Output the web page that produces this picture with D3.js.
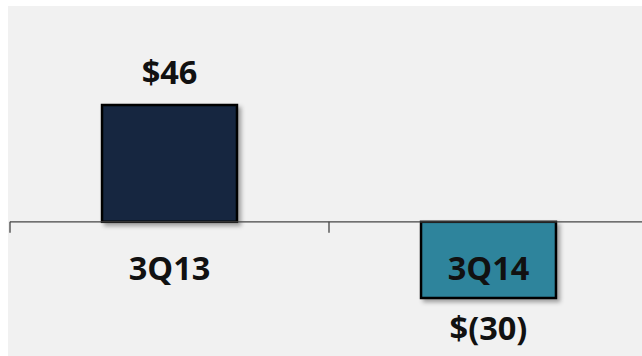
<!DOCTYPE html>
<html>
<head>
<meta charset="utf-8">
<script src="https://cdn.jsdelivr.net/npm/d3@7"></script>
<style>
  html, body { margin: 0; padding: 0; background: #ffffff; }
  svg { display: block; }
</style>
</head>
<body>
<svg id="chart" width="642" height="356"></svg>
<script>
const categories = ["3Q13", "3Q14"];
const values = [46, -30];
const valueLabels = ["$46", "$(30)"];
const barColors = ["#12253f", "#2e849c"];

const W = 642, H = 356;
const svg = d3.select("#chart");

const defs = svg.append("defs");
const f = defs.append("filter").attr("id", "shadow")
  .attr("x", "-20%").attr("y", "-20%").attr("width", "140%").attr("height", "140%");
f.append("feDropShadow").attr("dx", 3).attr("dy", 3).attr("stdDeviation", 2.2)
  .attr("flood-color", "#000").attr("flood-opacity", 0.35);

// panel background
svg.append("rect").attr("x", 8).attr("y", 6).attr("width", W - 8).attr("height", H - 6)
  .attr("fill", "#f1f1f1");

const x = d3.scaleBand().domain(categories).range([10, 648])
  .paddingInner(0.577).paddingOuter(0.2885);
const y = d3.scaleLinear().domain([-30, 46]).range([298, 105]);

// bars
svg.selectAll("rect.bar").data(values).join("rect")
  .attr("class", "bar")
  .attr("x", (d, i) => x(categories[i]))
  .attr("width", x.bandwidth())
  .attr("y", d => y(Math.max(0, d)))
  .attr("height", d => Math.abs(y(d) - y(0)))
  .attr("fill", (d, i) => barColors[i])
  .attr("stroke", "#000").attr("stroke-width", 2.5)
  .attr("filter", "url(#shadow)");

// axis
const axis = d3.axisBottom(x).tickSize(0).tickFormat("");
const g = svg.append("g").attr("transform", `translate(0,${y(0)})`).call(axis);
g.select(".domain").attr("stroke", "#444").attr("stroke-width", 1.3).attr("d", "M10,0H648");
// category boundary ticks
const step = x.step();
const bounds = [10, 10 + step];
svg.selectAll("line.tk").data(bounds).join("line").attr("class", "tk")
  .attr("x1", d => d).attr("x2", d => d)
  .attr("y1", y(0)).attr("y2", y(0) + 11)
  .attr("stroke", "#444").attr("stroke-width", 1.3);

const font = "'Open Sans', Lato, sans-serif";
// category labels
svg.selectAll("text.cat").data(categories).join("text").attr("class", "cat")
  .attr("x", d => x(d) + x.bandwidth() / 2)
  .attr("y", 280)
  .attr("text-anchor", "middle")
  .attr("font-family", font).attr("font-weight", 700).attr("font-size", 32.5)
  .attr("fill", "#111")
  .text(d => d);

// value labels
svg.selectAll("text.val").data(values).join("text").attr("class", "val")
  .attr("x", (d, i) => x(categories[i]) + x.bandwidth() / 2)
  .attr("y", d => d >= 0 ? y(d) - 21 : y(d) + 42)
  .attr("text-anchor", "middle")
  .attr("font-family", font).attr("font-weight", 700).attr("font-size", 32.5)
  .attr("fill", "#111")
  .text((d, i) => valueLabels[i]);
</script>
</body>
</html>
